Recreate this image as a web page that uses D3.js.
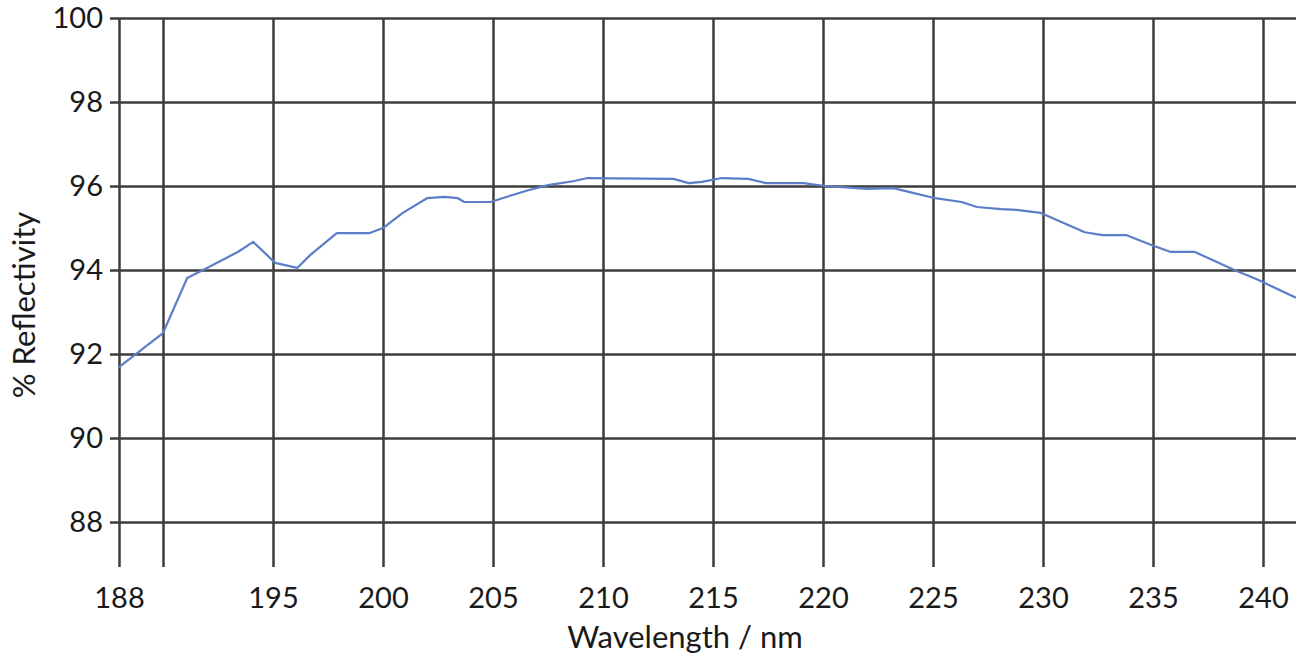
<!DOCTYPE html>
<html>
<head>
<meta charset="utf-8">
<script src="https://cdn.jsdelivr.net/npm/d3@7"></script>
<style>
  html, body { margin: 0; padding: 0; background: #fff; }
  svg { display: block; }
</style>
</head>
<body>
<svg id="chart"></svg>
<script>
// wavelength (nm) and reflectivity (%)
const wavelength = [188.0, 190.0, 191.1, 192.0, 193.4, 194.1, 195.1, 196.1, 196.7, 197.9, 199.4, 200.0,
  200.9, 202.0, 202.8, 203.4, 203.7, 204.9, 205.6, 206.6, 207.5, 208.7, 209.3, 213.2, 213.9, 214.5,
  215.4, 216.6, 217.4, 219.1, 220.1, 222.0, 223.2, 223.9, 225.1, 226.3, 227.0, 228.1, 228.8, 229.9,
  231.9, 232.7, 233.8, 234.9, 235.8, 236.9, 238.7, 239.8, 241.5];
const reflectivity = [91.69, 92.5, 93.81, 94.05, 94.43, 94.67, 94.17, 94.05, 94.36, 94.88, 94.88, 95.0,
  95.36, 95.71, 95.74, 95.71, 95.62, 95.62, 95.74, 95.9, 96.02, 96.12, 96.19, 96.17, 96.07, 96.1,
  96.19, 96.17, 96.07, 96.07, 96.0, 95.93, 95.95, 95.86, 95.71, 95.62, 95.5, 95.45, 95.43, 95.36,
  94.9, 94.83, 94.83, 94.6, 94.43, 94.43, 94.0, 93.76, 93.34];

const xTicks = [188, 190, 195, 200, 205, 210, 215, 220, 225, 230, 235, 240];
const xTickLabels = ["188", "", "195", "200", "205", "210", "215", "220", "225", "230", "235", "240"];
const yTicks = [88, 90, 92, 94, 96, 98, 100];

const width = 1296;
const height = 660;
const margin = ({ top: 18, right: 0, bottom: 93, left: 119 });
const font = "Lato, 'Open Sans', sans-serif";

const points = wavelength.map((w, i) => ({ w: w, r: reflectivity[i] }));

// scales
let xScale = d3.scaleLinear()
    .domain([188, 241.5])
    .range([margin.left, width - margin.right]);

let yScale = d3.scaleLinear()
    .domain([86.93, 100])
    .range([height - margin.bottom, margin.top]);

const svg = d3.select("#chart")
    .attr("width", width)
    .attr("height", height)
    .attr("viewBox", [0, 0, width, height]);

// horizontal grid + y labels (axis sits on the right edge, ticks reach left past 188)
const gridLeft = 110;
yAxis = g => g
    .attr("transform", `translate(${width},0)`)
    .call(d3.axisLeft(yScale).tickValues(yTicks).tickSize(width - gridLeft).tickPadding(7))
    .call(g => g.select(".domain").remove())
    .call(g => g.selectAll(".tick line").attr("stroke", "#3c3c3c").attr("stroke-width", 2.5))
    .call(g => g.selectAll(".tick text")
        .attr("fill", "#1a1a1a")
        .attr("font-family", font)
        .attr("font-size", 29));

// vertical grid + x labels
const gridBottom = height - margin.bottom;
xAxis = g => g
    .attr("transform", `translate(0,${margin.top})`)
    .call(d3.axisBottom(xScale).tickValues(xTicks)
        .tickFormat((d, i) => xTickLabels[i])
        .tickSize(gridBottom - margin.top).tickPadding(20))
    .call(g => g.select(".domain").remove())
    .call(g => g.selectAll(".tick line").attr("stroke", "#3c3c3c").attr("stroke-width", 2.5))
    .call(g => g.selectAll(".tick text")
        .attr("fill", "#1a1a1a")
        .attr("font-family", font)
        .attr("font-size", 29));

svg.append("g").call(xAxis);
svg.append("g").call(yAxis);

// reflectivity curve
const line = d3.line()
    .x(d => xScale(d.w))
    .y(d => yScale(d.r));

svg.append("path")
    .datum(points)
    .attr("fill", "none")
    .attr("stroke", "#5b7ec6")
    .attr("stroke-width", 2.2)
    .attr("stroke-linejoin", "round")
    .attr("d", line);

// axis titles
svg.append("text")
    .attr("x", 685)
    .attr("y", 648)
    .attr("text-anchor", "middle")
    .attr("font-family", font)
    .attr("font-size", 31)
    .attr("fill", "#1a1a1a")
    .text("Wavelength / nm");

svg.append("text")
    .attr("transform", "translate(35,305) rotate(-90)")
    .attr("text-anchor", "middle")
    .attr("font-family", font)
    .attr("font-size", 31)
    .attr("fill", "#1a1a1a")
    .text("% Reflectivity");
</script>
</body>
</html>
